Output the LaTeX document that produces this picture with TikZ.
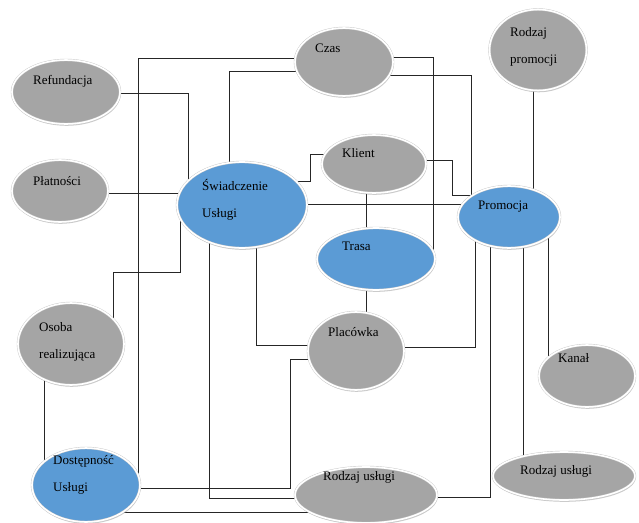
\documentclass[tikz,border=0pt]{standalone}
\usepackage{fontspec}
\setmainfont{Liberation Serif}
\usetikzlibrary{shapes.geometric, shadows, backgrounds}
\definecolor{szaryfill}{RGB}{165,165,165}
\definecolor{niebieskifill}{RGB}{91,155,213}

\begin{document}
\begin{tikzpicture}[x=1pt, y=-1pt,
    owal/.style={ellipse, draw=black!22, double=white, double distance=1.6pt, line width=0.4pt, inner sep=0pt,
      drop shadow={shadow xshift=0.6pt, shadow yshift=-1.8pt, fill=black!40, opacity=0.5}},
    szary/.style={owal, fill=szaryfill},
    niebieski/.style={owal, fill=niebieskifill},
    podpis/.style={anchor=mid west, inner sep=0pt, align=left, font=\fontsize{13}{27}\selectfont},
    podpis2/.style={podpis, anchor=west},
    linia/.style={draw=black!85, line width=0.6pt}]
      \useasboundingbox (0,0) rectangle (639,522);

      \node[szary, minimum width=98pt, minimum height=68pt] (czas) at (344,62) {};
      \node[szary, minimum width=97pt, minimum height=81pt] (rpromo) at (538,50) {};
      \node[szary, minimum width=108pt, minimum height=64pt] (refund) at (66,92) {};
      \node[szary, minimum width=96pt, minimum height=62pt] (platn) at (60,191) {};
      \node[niebieski, minimum width=130pt, minimum height=86pt] (swiad) at (242,205) {};
      \node[szary, minimum width=104pt, minimum height=58pt] (klient) at (374,164) {};
      \node[niebieski, minimum width=102pt, minimum height=62pt] (promo) at (509,217) {};
      \node[niebieski, minimum width=118pt, minimum height=62pt] (trasa) at (376,259) {};
      \node[szary, minimum width=96pt, minimum height=78pt] (placowka) at (356,351) {};
      \node[szary, minimum width=96pt, minimum height=62pt] (kanal) at (587,376) {};
      \node[szary, minimum width=106pt, minimum height=82pt] (osoba) at (71,344) {};
      \node[niebieski, minimum width=108pt, minimum height=74pt] (dostep) at (86,485) {};
      \node[szary, minimum width=142pt, minimum height=56pt] (rusl1) at (366,495) {};
      \node[szary, minimum width=142pt, minimum height=48pt] (rusl2) at (564,476) {};

      \node[podpis] (czas-t) at (315,50) {Czas};
      \node[podpis2] (rpromo-t) at (510,47) {Rodzaj\\promocji};
      \node[podpis] (refund-t) at (33,82) {Refundacja};
      \node[podpis] (platn-t) at (33,183) {Płatności};
      \node[podpis2] (swiad-t) at (202,200) {Świadczenie\\Usługi};
      \node[podpis] (klient-t) at (342,155) {Klient};
      \node[podpis] (promo-t) at (478,207) {Promocja};
      \node[podpis] (trasa-t) at (342,248) {Trasa};
      \node[podpis] (placowka-t) at (328,334) {Placówka};
      \node[podpis] (kanal-t) at (558,360) {Kanał};
      \node[podpis2] (osoba-t) at (39,342) {Osoba\\realizująca};
      \node[podpis2] (dostep-t) at (53,475) {Dostępność\\Usługi};
      \node[podpis] (rusl1-t) at (323,478) {Rodzaj usługi};
      \node[podpis] (rusl2-t) at (520,472) {Rodzaj usługi};

      \begin{pgfonlayer}{background}
      \draw[linia] (czas.center |- 0,58) -| (138,488) -- (dostep.center |- 0,488);
      \draw[linia] (dostep.center |- 0,488) -| (290,359) -- (placowka.center |- 0,359);
      \draw[linia] (refund.center |- 0,93) -| (swiad.center -| 188,0);
      \draw[linia] (czas.center |- 0,71) -| (swiad.center -| 229,0);
      \draw[linia] (platn.center |- 0,193) -- (swiad.center |- 0,193);
      \draw[linia] (swiad.center |- 0,181) -| (310,154) -- (klient.center |- 0,154);
      \draw[linia] (swiad.center |- 0,204) -- (promo.center |- 0,204);
      \draw[linia] (czas.center |- 0,75) -| (promo.center -| 471,0);
      \draw[linia] (czas.center |- 0,57) -| (trasa.center -| 433,0);
      \draw[linia] (klient.center |- 0,160) -| (452,195) -- (promo.center |- 0,195);
      \draw[linia] (rpromo.center -| 533,0) -- (promo.center -| 533,0);
      \draw[linia] (klient.center -| 366,0) -- (trasa.center -| 366,0);
      \draw[linia] (trasa.center -| 366,0) -- (placowka.center -| 366,0);
      \draw[linia] (swiad.center -| 256,0) |- (placowka.center |- 0,345);
      \draw[linia] (swiad.center -| 209,0) |- (rusl1.center |- 0,498);
      \draw[linia] (swiad.center -| 180,0) |- (113,272) -- (osoba.center -| 113,0);
      \draw[linia] (osoba.center -| 44,0) -- (dostep.center -| 44,0);
      \draw[linia] (dostep.center |- 0,512) -- (rusl1.center |- 0,512);
      \draw[linia] (promo.center -| 475,0) |- (placowka.center |- 0,347);
      \draw[linia] (promo.center -| 490,0) |- (rusl1.center |- 0,497);
      \draw[linia] (promo.center -| 523,0) -- (rusl2.center -| 523,0);
      \draw[linia] (promo.center -| 548,0) -- (kanal.center -| 548,0);
      \end{pgfonlayer}
    \end{tikzpicture}
\end{document}
